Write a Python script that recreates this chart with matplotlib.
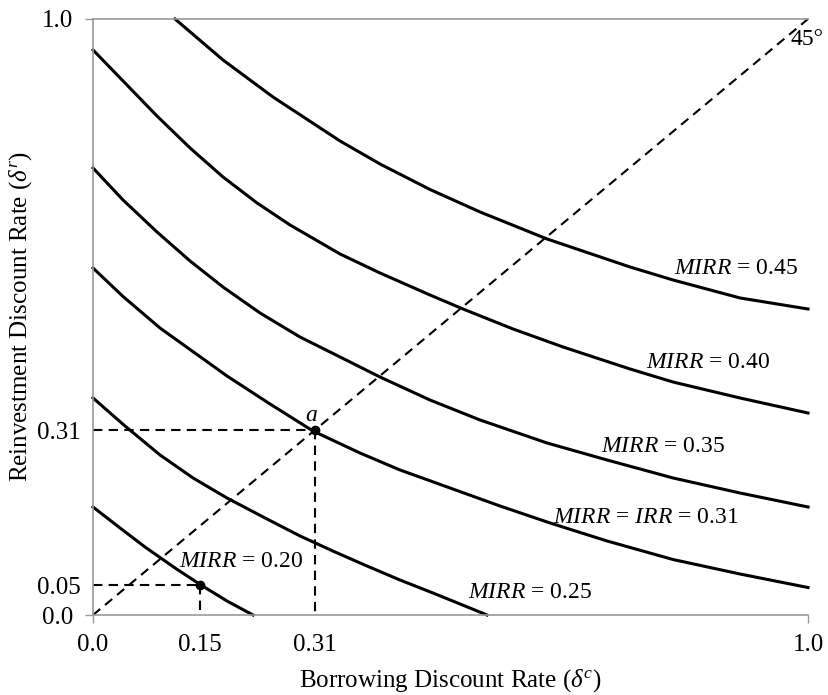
import matplotlib
matplotlib.use("Agg")
from matplotlib import pyplot as plt

plt.rcParams['font.family'] = ['Liberation Serif', 'DejaVu Serif']
plt.rcParams['mathtext.fontset'] = 'custom'
plt.rcParams['mathtext.rm'] = 'Liberation Serif'
plt.rcParams['mathtext.it'] = 'Liberation Serif:italic'

# curves (borrowing rate x, reinvestment rate y)
x_045 = [0.1147, 0.1818, 0.2517, 0.3455, 0.4014, 0.4713, 0.5413, 0.6350, 0.7510, 0.8112, 0.9049, 1.0]
y_045 = [1.0000, 0.9312, 0.8691, 0.7953, 0.7567, 0.7139, 0.6762, 0.6309, 0.5839, 0.5621, 0.5319, 0.5134]

x_040 = [0.0, 0.0420, 0.0895, 0.1357, 0.1818, 0.2294, 0.2755, 0.3455, 0.4014, 0.4713, 0.5175,
         0.5874, 0.6573, 0.7510, 0.8112, 0.9049, 1.0]
y_040 = [0.9480, 0.8960, 0.8372, 0.7836, 0.7349, 0.6913, 0.6544, 0.6057, 0.5738, 0.5369, 0.5134,
         0.4799, 0.4497, 0.4128, 0.3909, 0.3641, 0.3389]

x_035 = [0.0, 0.0420, 0.0895, 0.1357, 0.1818, 0.2336, 0.2895, 0.3455, 0.4014, 0.4713, 0.5413,
         0.6350, 0.7189, 0.8112, 0.9049, 1.0]
y_035 = [0.7500, 0.6963, 0.6426, 0.5940, 0.5503, 0.5067, 0.4664, 0.4329, 0.3993, 0.3607, 0.3272,
         0.2886, 0.2601, 0.2299, 0.2047, 0.1812]

x_031 = [0.0, 0.0420, 0.0937, 0.1874, 0.2476, 0.3077, 0.3734, 0.4294, 0.4993, 0.5692, 0.6392,
         0.7189, 0.8112, 0.9049, 1.0]
y_031 = [0.5822, 0.5344, 0.4815, 0.4010, 0.3540, 0.3087, 0.2718, 0.2433, 0.2131, 0.1829, 0.1544,
         0.1242, 0.0931, 0.0688, 0.0461]

x_025 = [0.0, 0.0448, 0.0937, 0.1399, 0.1874, 0.2406, 0.2895, 0.3385, 0.3832, 0.4294, 0.4755, 0.5133, 0.5510]
y_025 = [0.3641, 0.3171, 0.2685, 0.2299, 0.1963, 0.1628, 0.1326, 0.1057, 0.0822, 0.0587, 0.0369, 0.0185, 0.0]

x_020 = [0.0, 0.0378, 0.0727, 0.1147, 0.1510, 0.1874, 0.2238]
y_020 = [0.1812, 0.1460, 0.1141, 0.0789, 0.0503, 0.0235, 0.0]

point_x = [0.15, 0.31]
point_y = [0.05, 0.31]

fig = plt.figure(figsize=(8.29, 6.95), dpi=100)
ax = fig.add_axes([0.1122, 0.1151, 0.8625, 0.8576])

for xs, ys in [(x_045, y_045), (x_040, y_040), (x_035, y_035),
               (x_031, y_031), (x_025, y_025), (x_020, y_020)]:
    ax.plot(xs, ys, color='black', lw=2.2, solid_joinstyle='round', clip_on=False)

dash = dict(color='black', lw=1.5, dashes=(4.5, 3), clip_on=False)
ax.plot([0, 1], [0, 1], **dash)
for px, py in zip(point_x, point_y):
    ax.plot([0, px], [py, py], **dash)
    ax.plot([px, px], [py, 0], **dash)
ax.plot(point_x, point_y, 'o', color='black', ms=6, clip_on=False, zorder=5)

fs = 17
ax.text(0.812, 0.582, r'$\mathit{MIRR}$ = 0.45', fontsize=fs, va='center')
ax.text(0.773, 0.423, r'$\mathit{MIRR}$ = 0.40', fontsize=fs, va='center')
ax.text(0.711, 0.282, r'$\mathit{MIRR}$ = 0.35', fontsize=fs, va='center')
ax.text(0.644, 0.164, r'$\mathit{MIRR}$ = $\mathit{IRR}$ = 0.31', fontsize=fs, va='center')
ax.text(0.525, 0.037, r'$\mathit{MIRR}$ = 0.25', fontsize=fs, va='center')
ax.text(0.120, 0.089, r'$\mathit{MIRR}$ = 0.20', fontsize=fs, va='center')
ax.text(0.306, 0.334, r'$a$', fontsize=fs, ha='center', va='center')
ax.text(0.999, 0.965, '45°', fontsize=fs, ha='center', va='center', clip_on=False)

ax.set_xlim(0, 1)
ax.set_ylim(0, 1)

ax.set_xticks([0, 1])
ax.set_xticklabels(['0.0', '1.0'])
ax.set_xticks([0.15, 0.31], minor=True)
ax.set_xticklabels(['0.15', '0.31'], minor=True)
ax.set_yticks([0, 1])
ax.set_yticklabels(['0.0', '1.0'])
ax.set_yticks([0.05, 0.31], minor=True)
ax.set_yticklabels(['0.05', '0.31'], minor=True)

fl = 18
ax.tick_params(which='major', direction='out', length=6, width=1, color='#999999',
               labelsize=fl, pad=8)
ax.tick_params(which='minor', length=0, labelsize=fl)
ax.tick_params(axis='x', which='minor', pad=14)
ax.tick_params(axis='y', which='minor', pad=9)

for side in ['left', 'bottom', 'top']:
    ax.spines[side].set_color('#999999')
    ax.spines[side].set_linewidth(1.2)
ax.spines['right'].set_visible(False)

ax.set_xlabel(r'Borrowing Discount Rate ($\delta^c$)', fontsize=fl, labelpad=8)
ax.set_ylabel(r'Reinvestment Discount Rate ($\delta^r$)', fontsize=fl, labelpad=2)

fig.savefig('out.png', dpi=100)
